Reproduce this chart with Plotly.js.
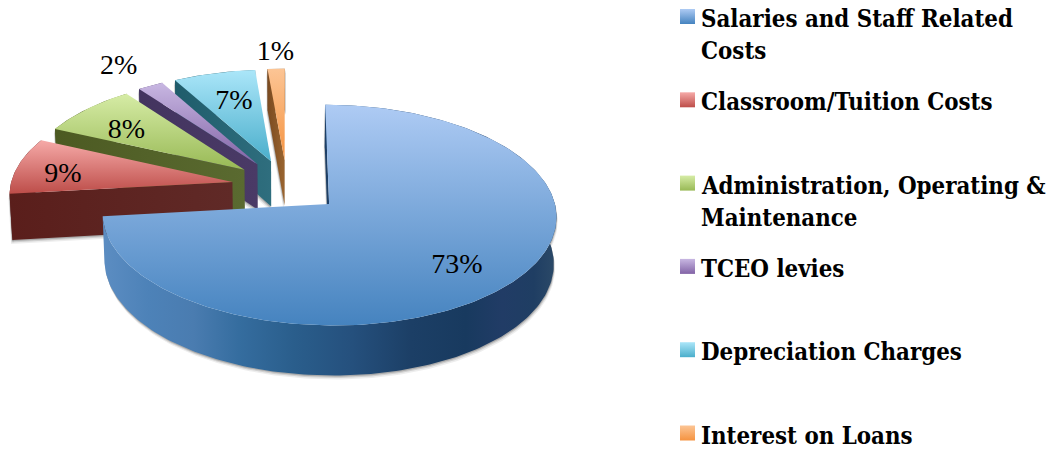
<!DOCTYPE html>
<html><head><meta charset="utf-8">
<script src="https://cdn.plot.ly/plotly-3.0.1.min.js"></script>
<style>html,body{margin:0;padding:0;background:#fff}#c{width:1055px;height:450px}</style>
</head><body><div id="c"></div>
<script>
const categories = ["Salaries and Staff Related|Costs","Classroom/Tuition Costs","Administration, Operating &|Maintenance","TCEO levies","Depreciation Charges","Interest on Loans"];
const shares = [73.2,8.6,8.0,2.1,6.7,1.4];
const topLight = ["#aecbf4","#f6aaa8","#d6eca6","#c8b7e2","#abe6f9","#fcc595"];
const topDark  = ["#4583bf","#bd4d49","#98b955","#8263a6","#4aaecb","#f59340"];
const wallEdge = ["#1d3f66","#5a1e1b","#4c5a22","#43345f","#1f5c6b","#7a4a20"];
const wallEdge2= ["#1d3f66","#602a27","#5a6a30","#4a3a66","#2f6e7e","#9a6530"];
const labelRadius = [0.743,0.78,0.705,1.305,0.67,1.217];
const labelTurn = [3.2,-2.6,-2.8,-0.6,0.9,0.2];

// Projection of the tilted, exploded disc on the page-sized axes.
const X0=287, Y0=186, CX=222, AY=105.6, B=0.1, EXPLODE=0.25, STEP=1.2, LABEL_DY=2;
const rad=d=>d*Math.PI/180;
const total=shares.reduce((a,b)=>a+b,0);
let acc=0;
const slices=shares.map(s=>{const a0=acc/total*360; acc+=s; const a1=acc/total*360; return {a0,a1,mid:(a0+a1)/2};});
function project(slice,theta,r,down){
  const U=EXPLODE*Math.sin(rad(slice.mid))+r*Math.sin(rad(theta));
  const V=-EXPLODE*Math.cos(rad(slice.mid))-r*Math.cos(rad(theta));
  let x=X0+CX*U/(1-B*V), y=Y0+AY*V/(1-B*V);
  if(down){x=X0+(x-X0)*0.99; y=y+46+3.5*V;}
  return [x,y];
}
function arc(slice,down){
  const pts=[];const n=Math.max(2,Math.ceil((slice.a1-slice.a0)/STEP));
  for(let k=0;k<=n;k++)pts.push(project(slice,slice.a0+(slice.a1-slice.a0)*k/n,1,down));
  return pts;
}
function poly(pts,extra){
  const xs=pts.map(p=>p[0]),ys=pts.map(p=>p[1]);
  xs.push(xs[0]);ys.push(ys[0]);
  return Object.assign({x:xs,y:ys,type:'scatter',mode:'lines',fill:'toself',line:{width:0},hoverinfo:'skip',showlegend:false},extra);
}
function vgrad(pts,c0,c1){const ys=pts.map(p=>p[1]);return {type:'vertical',start:Math.min(...ys),stop:Math.max(...ys),colorscale:[[0,c0],[1,c1]]};}
const blueWallScale=[[0,'#5c8dc2'],[0.1,'#4d82b8'],[0.2,'#4a7cb0'],[0.3,'#356d9f'],[0.42,'#2a5e8c'],[0.55,'#25507d'],[0.68,'#1c3f66'],[0.8,'#183a5f'],[0.88,'#213c66'],[0.95,'#1f3e63'],[1,'#2c4a68']];

const traces=[];
for(let i=shares.length-1;i>=0;i--){
  const s=slices[i], a=arc(s,false), b=arc(s,true);
  const apexT=project(s,s.a0,0,false), apexB=project(s,s.a0,0,true);
  const wall=a.concat(b.slice().reverse());
  const radial=[apexT,a[0],b[0],apexB];
  [[4,'rgba(0,0,0,0.07)'],[2.5,'rgba(0,0,0,0.12)'],[1.2,'rgba(0,0,0,0.18)']].forEach(([o,c])=>{
    traces.push(poly(wall.map(p=>[p[0]+o*0.3,p[1]+o]),{fillcolor:c}));
    traces.push(poly(radial.map(p=>[p[0]-o*0.3,p[1]+o]),{fillcolor:c}));
  });
  const xs=wall.map(p=>p[0]);
  traces.push(poly(wall,{fillgradient: i===0
    ? {type:'horizontal',start:Math.min(...xs),stop:Math.max(...xs),colorscale:blueWallScale}
    : {type:'horizontal',start:Math.min(...xs),stop:Math.max(...xs),colorscale:[[0,wallEdge[i]],[1,wallEdge2[i]]]}}));
  const rx=radial.map(p=>p[0]);
  traces.push(poly(radial,{fillgradient:{type:'horizontal',start:Math.min(...rx),stop:Math.max(...rx),colorscale:[[0,wallEdge[i]],[1,wallEdge2[i]]]}}));
  const top=[project(s,s.a0,0,false)].concat(a);
  traces.push(poly(top,{fillgradient:vgrad(top,topLight[i],topDark[i])}));
}
const lab=slices.map((s,i)=>project(s,s.mid+labelTurn[i],labelRadius[i],false));
traces.push({x:lab.map(p=>p[0]),y:lab.map(p=>p[1]+LABEL_DY),text:shares.map(v=>Math.round(v)+'%'),type:'scatter',mode:'text',textposition:'middle center',
  textfont:{family:'"Liberation Serif",serif',size:28,color:'#000'},hoverinfo:'skip',showlegend:false});
const KEYX=687.5, KEYY=16.5, DY=83.3, TEXTX=700, LINE=32;
traces.push({x:categories.map(()=>KEYX),y:categories.map((c,i)=>KEYY+i*DY),type:'scatter',mode:'markers',hoverinfo:'skip',showlegend:false,
  marker:{symbol:'square',size:15,line:{width:0},color:topLight,gradient:{type:'vertical',color:topDark}}});
const annotations=[];
categories.forEach((c,i)=>c.split('|').forEach((t,j)=>annotations.push({x:TEXTX,y:19+i*DY+j*LINE,xref:'x',yref:'y',xanchor:'left',yanchor:'middle',align:'left',showarrow:false,borderpad:0,text:t,
  font:{family:'"DejaVu Serif Condensed","DejaVu Serif",serif',size:23.8,color:'#000',weight:700}})));

Plotly.newPlot('c',traces,{
  width:1055,height:450,margin:{l:0,r:0,t:0,b:0},paper_bgcolor:'#fff',plot_bgcolor:'#fff',showlegend:false,
  xaxis:{range:[0,1055],visible:false,fixedrange:true},
  yaxis:{range:[450,0],visible:false,fixedrange:true},
  annotations
},{displayModeBar:false,staticPlot:true});
</script></body></html>
